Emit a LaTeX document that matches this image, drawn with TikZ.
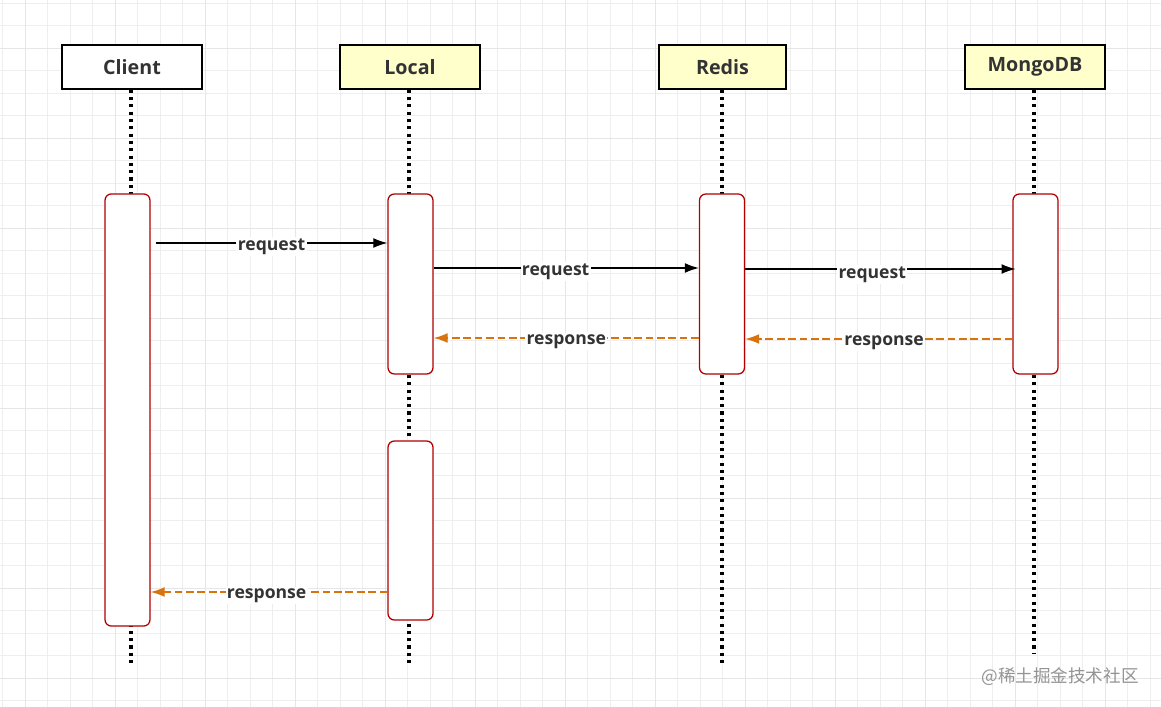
\documentclass[tikz,border=0pt]{standalone}
\usepackage{fontspec}
\setmainfont{Open Sans}
\newfontfamily\cjkfont{Noto Sans CJK SC}
\usetikzlibrary{arrows.meta,positioning,backgrounds,calc}
\definecolor{gridminor}{HTML}{EEEEEE}
\definecolor{gridmajor}{HTML}{E6E6E6}
\definecolor{headfill}{HTML}{FFFFCC}
\definecolor{actred}{HTML}{B20000}
\definecolor{respcol}{HTML}{D9730D}
\definecolor{txtcol}{HTML}{333333}

\begin{document}
\begin{tikzpicture}[x=0.025cm,y=-0.025cm,
   actor/.style={draw=black, line width=1pt, minimum width=3.5cm, minimum height=1.1cm,
      inner sep=0pt, font=\fontsize{14}{16}\selectfont\bfseries, text=txtcol},
   act/.style={draw=actred, fill=white, line width=0.9pt, rounded corners=1.6mm,
      minimum width=1.125cm, inner sep=0pt},
   lifeline/.style={line width=2.2pt, dash pattern=on 2.2pt off 3pt},
   req/.style={draw=black, line width=0.8pt, -{Latex[length=10pt,width=7pt]}},
   resp/.style={draw=respcol, line width=0.9pt, dash pattern=on 5.5pt off 2.6pt,
      -{Latex[length=10pt,width=7pt]}},
   msg/.style={fill=white, inner sep=1pt, yshift=-0.09cm,
      font=\fontsize{12.5}{14}\selectfont\bfseries, text=txtcol}]
  \useasboundingbox[fill=white] (0,0) rectangle (1161,707);
  % background grid
  \foreach \x in {2.5,25,...,1161} \draw[gridminor, line width=0.6pt] (\x,0) -- (\x,707);
  \foreach \y in {3,25.5,...,707} \draw[gridminor, line width=0.6pt] (0,\y) -- (1161,\y);
  \foreach \x in {25,115,...,1161} \draw[gridmajor, line width=0.7pt] (\x,0) -- (\x,707);
  \foreach \y in {48,138,...,707} \draw[gridmajor, line width=0.7pt] (0,\y) -- (1161,\y);

  % participants
  \node[actor, fill=white] (client) at (132, 67) {Client};
  \node[actor, fill=headfill] (local) at (410, 67) {Local};
  \node[actor, fill=headfill, minimum width=3.175cm] (redis) at (722.5, 67) {Redis};
  \node[actor, fill=headfill] (mongo) at (1035, 67) {MongoDB};

  % lifelines
  \coordinate (clientend) at (131, 665);
  \coordinate (localend) at (409, 665);
  \coordinate (redisend) at (722, 665);
  \coordinate (mongoend) at (1034, 653);
  \draw[lifeline] (client.south -| clientend) -- (clientend);
  \draw[lifeline] (local.south -| localend) -- (localend);
  \draw[lifeline] (redis.south -| redisend) -- (redisend);
  \draw[lifeline] (mongo.south -| mongoend) -- (mongoend);

  % activations
  \node[act, minimum height=10.8cm] (clientact) at (127.5, 410) {};
  \node[act, minimum height=4.5cm] (localact) at (410.5, 284) {};
  \node[act, minimum height=4.475cm] (localact2) at (410.5, 530.5) {};
  \node[act, minimum height=4.5cm] (redisact) at (722, 284) {};
  \node[act, minimum height=4.5cm] (mongoact) at (1035.5, 284) {};

  % message rows
  \coordinate (m1) at (0, 243);
  \coordinate (m2) at (0, 268);
  \coordinate (m3) at (0, 269);
  \coordinate (r1) at (0, 338);
  \coordinate (r2) at (0, 339);
  \coordinate (r3) at (0, 592);

  \path ([xshift=0.125cm]clientact.east |- m1) edge[req] node[msg, pos=0.5] {request} (localact.west |- m1);
  \path (localact.east |- m2) edge[req] node[msg, pos=0.46] {request} (redisact.west |- m2);
  \path (redisact.east |- m3) edge[req] node[msg, pos=0.47, yshift=-0.05cm] {request} ([xshift=0.08cm]mongoact.west |- m3);
  \path (redisact.west |- r1) edge[resp] node[msg, pos=0.5] {response} (localact.east |- r1);
  \path (mongoact.west |- r2) edge[resp] node[msg, pos=0.48] {response} (redisact.east |- r2);
  \path (localact2.west |- r3) edge[resp] node[msg, pos=0.51] {response} (clientact.east |- r3);

  % watermark
  \node[text=black!42, font=\cjkfont\fontsize{12.5}{14}\selectfont] (mark) at (1060, 677) {@稀土掘金技术社区};
\end{tikzpicture}
\end{document}
